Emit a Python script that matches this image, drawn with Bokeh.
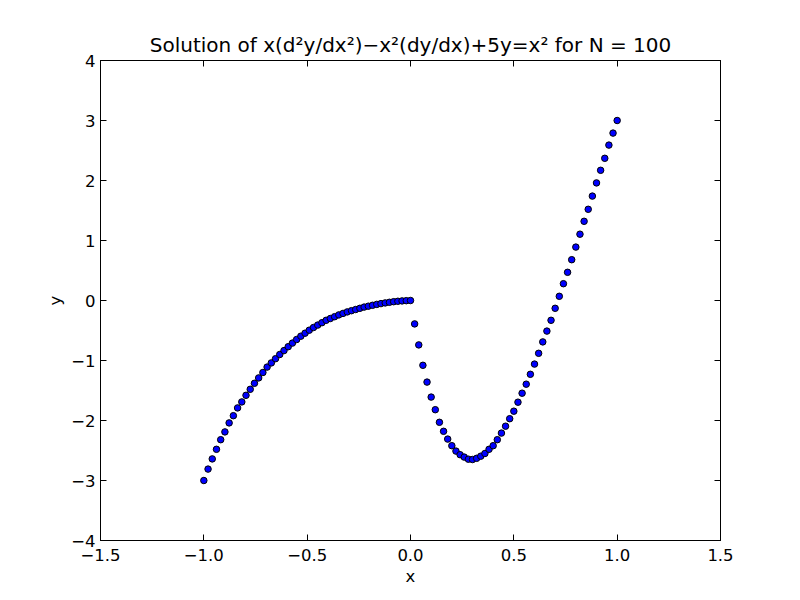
from bokeh.plotting import figure
from bokeh.models import Range1d, LinearAxis, FixedTicker, ColumnDataSource
from bokeh.embed import file_html
from bokeh.resources import INLINE

# ---- data ----
x_left = [-1.0, -0.9796, -0.9592, -0.9388, -0.9184, -0.8980, -0.8776, -0.8571, -0.8367, -0.8163,
          -0.7959, -0.7755, -0.7551, -0.7347, -0.7143, -0.6939, -0.6735, -0.6531, -0.6327, -0.6122,
          -0.5918, -0.5714, -0.5510, -0.5306, -0.5102, -0.4898, -0.4694, -0.4490, -0.4286, -0.4082,
          -0.3878, -0.3673, -0.3469, -0.3265, -0.3061, -0.2857, -0.2653, -0.2449, -0.2245, -0.2041,
          -0.1837, -0.1633, -0.1429, -0.1224, -0.1020, -0.0816, -0.0612, -0.0408, -0.0204, 0.0]
y_left = [-3.0, -2.81, -2.64, -2.48, -2.32, -2.19, -2.04, -1.92, -1.79, -1.69,
          -1.58, -1.48, -1.38, -1.29, -1.20, -1.11, -1.04, -0.97, -0.90, -0.835,
          -0.77, -0.71, -0.65, -0.595, -0.545, -0.495, -0.45, -0.41, -0.37, -0.33,
          -0.30, -0.27, -0.24, -0.215, -0.19, -0.17, -0.15, -0.13, -0.11, -0.095,
          -0.08, -0.065, -0.052, -0.04, -0.03, -0.02, -0.013, -0.007, -0.003, 0.0]
x_right = [0.02, 0.04, 0.06, 0.08, 0.10, 0.12, 0.14, 0.16, 0.18, 0.20,
           0.22, 0.24, 0.26, 0.28, 0.30, 0.32, 0.34, 0.36, 0.38, 0.40,
           0.42, 0.44, 0.46, 0.48, 0.50, 0.52, 0.54, 0.56, 0.58, 0.60,
           0.62, 0.64, 0.66, 0.68, 0.70, 0.72, 0.74, 0.76, 0.78, 0.80,
           0.82, 0.84, 0.86, 0.88, 0.90, 0.92, 0.94, 0.96, 0.98, 1.00]
y_right = [-0.39, -0.74, -1.08, -1.36, -1.61, -1.82, -2.03, -2.18, -2.31, -2.42,
           -2.51, -2.57, -2.61, -2.645, -2.65, -2.63, -2.595, -2.55, -2.48, -2.42,
           -2.32, -2.21, -2.095, -1.97, -1.845, -1.695, -1.545, -1.395, -1.23, -1.06,
           -0.88, -0.69, -0.51, -0.33, -0.13, 0.07, 0.28, 0.47, 0.68, 0.89,
           1.105, 1.32, 1.52, 1.74, 1.96, 2.17, 2.37, 2.59, 2.79, 3.0]

x_ticks = [-1.5, -1.0, -0.5, 0.0, 0.5, 1.0, 1.5]
x_tick_labels = ["\u22121.5", "\u22121.0", "\u22120.5", "0.0", "0.5", "1.0", "1.5"]
y_ticks = [-4, -3, -2, -1, 0, 1, 2, 3, 4]
y_tick_labels = ["\u22124", "\u22123", "\u22122", "\u22121", "0", "1", "2", "3", "4"]

title_str = "Solution of x(d\u00b2y/dx\u00b2)\u2212x\u00b2(dy/dx)+5y=x\u00b2 for N = 100"

FONT = "DejaVu Sans"

p = figure(output_backend="svg", toolbar_location=None,
           frame_width=620, frame_height=480,
           min_border_left=100, min_border_right=64,
           min_border_top=60, min_border_bottom=44,
           x_range=Range1d(-1.5, 1.5), y_range=Range1d(-4, 4),
           background_fill_color="white", border_fill_color="white",
           title=title_str)
p.grid.visible = False
p.outline_line_color = "black"
p.outline_line_width = 1

p.title.align = "center"
p.title.text_font = FONT
p.title.text_font_size = "20px"
p.title.text_font_style = "normal"
p.title.text_color = "black"
p.title.standoff = 7

def style_axis(ax, ticks, labels, show_labels):
    ax.ticker = FixedTicker(ticks=ticks)
    ax.major_tick_in = 6
    ax.major_tick_out = 0
    ax.minor_tick_in = 0
    ax.minor_tick_out = 0
    ax.axis_line_color = "black"
    ax.major_tick_line_color = "black"
    if show_labels:
        ax.major_label_overrides = {t: l for t, l in zip(ticks, labels)}
        ax.major_label_text_font = FONT
        ax.major_label_text_color = "black"
        ax.major_label_standoff = 5
        ax.major_label_text_font_size = "16.5px"
    else:
        ax.major_label_text_font_size = "1px"
        ax.major_label_text_color = None
        ax.major_label_standoff = 0

style_axis(p.xaxis[0], x_ticks, x_tick_labels, True)
style_axis(p.yaxis[0], y_ticks, y_tick_labels, True)
p.xaxis[0].major_label_standoff = 8
p.xaxis[0].axis_label = "x"
p.yaxis[0].axis_label = "y"
for ax in (p.xaxis[0], p.yaxis[0]):
    ax.axis_label_text_font = FONT
    ax.axis_label_text_font_size = "16.5px"
    ax.axis_label_text_font_style = "normal"
    ax.axis_label_text_color = "black"
    ax.axis_label_standoff = 3

top = LinearAxis()
style_axis(top, x_ticks, x_tick_labels, False)
p.add_layout(top, "above")
right = LinearAxis()
style_axis(right, y_ticks, y_tick_labels, False)
p.add_layout(right, "right")

src = ColumnDataSource(dict(x=x_left + x_right, y=y_left + y_right))
p.scatter("x", "y", source=src, size=6.5, fill_color="#0000ff",
          line_color="black", line_width=1)

open("out.html", "w").write(file_html(p, INLINE))
